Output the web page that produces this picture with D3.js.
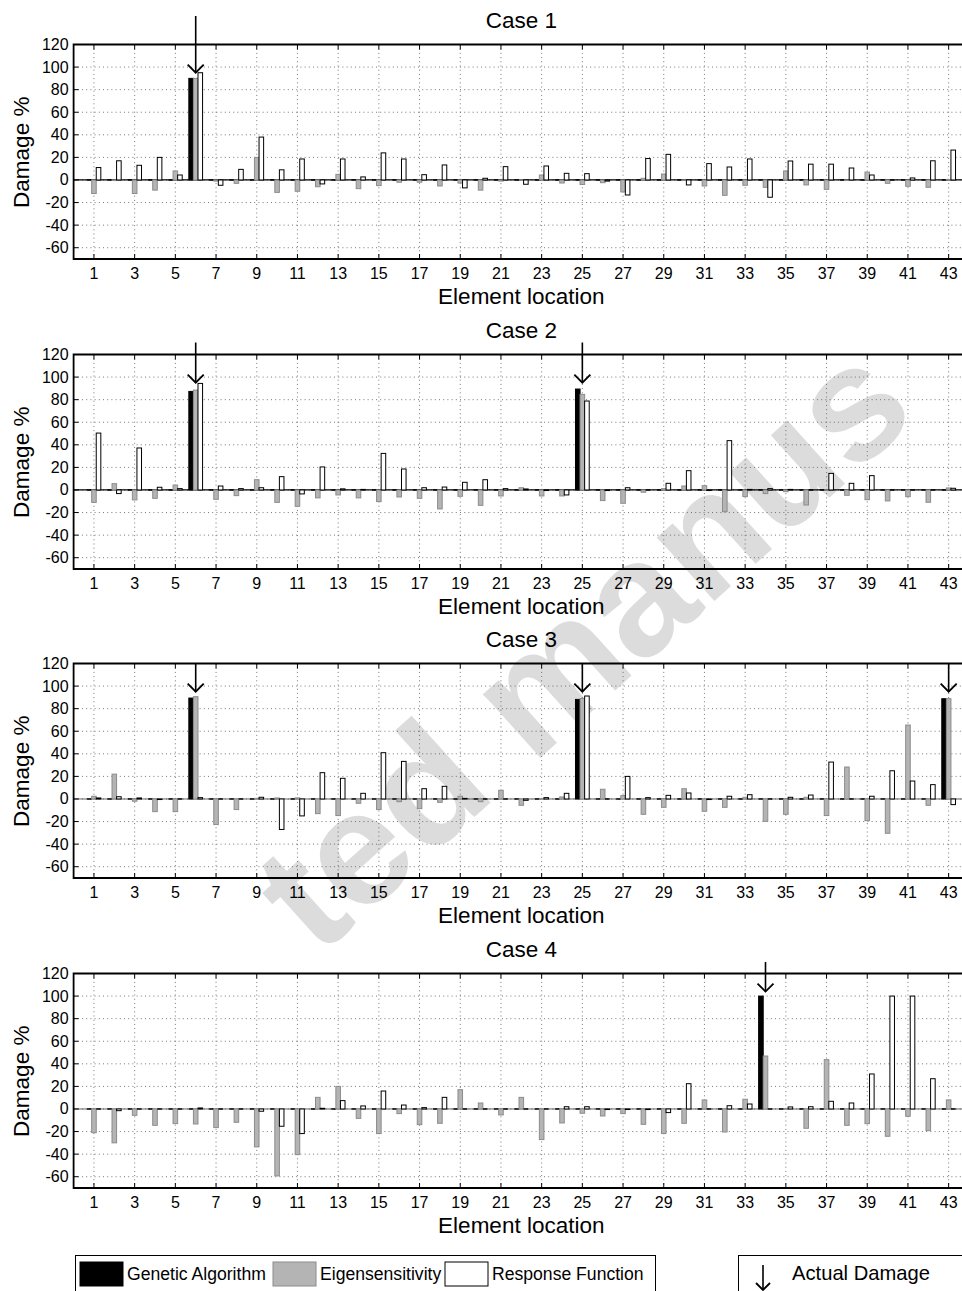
<!DOCTYPE html>
<html>
<head>
<meta charset="utf-8">
<script src="https://cdn.jsdelivr.net/npm/d3@7"></script>
<style>
  body { margin: 0; background: #fff; }
  svg { display: block; }
  text { font-family: "Liberation Sans", Arial, sans-serif; fill: #000; }
</style>
</head>
<body>
<svg id="chart" width="962" height="1291"></svg>
<script>
// ---- data -------------------------------------------------------------
const elements = d3.range(1, 44);                 // element numbers 1..43
const xTickValues = d3.range(1, 44, 2);           // 1,3,...,43
const yTickValues = [-60, -40, -20, 0, 20, 40, 60, 80, 100, 120];
const seriesNames = ["Genetic Algorithm", "Eigensensitivity", "Response Function"];
const caseTitles = ["Case 1", "Case 2", "Case 3", "Case 4"];
const xAxisTitle = "Element location";
const yAxisTitle = "Damage %";
const markerLabel = "Actual Damage";

// Case 1
const ga1 = [0,0,0,0,0,90,0,0,0,0,0,0,0,0,0,0,0,0,0,0,0,0,0,0,0,0,0,0,0,0,0,0,0,0,0,0,0,0,0,0,0,0,0];
const es1 = [-12,-0.5,-12,-9,8,90,-1,-3,20,-11,-10,-6,5,-7.7,-5,-2,-2,-5.3,-2.7,-9,-1,0,4.4,-2.7,-4,-2.4,-10.6,1.5,5.3,-0.5,-5.3,-13.6,-4.7,-6.5,8,-4.4,-8.3,-0.5,7,-3,-5.6,-6.5,0.5];
const rf1 = [11,17,13,20,4.4,95,-4.7,9.4,38,9,18.6,-3.5,18.6,2.7,24,18.6,4.7,13.3,-7,1.5,11.8,-3.8,12.4,5.9,5.6,-1,-13.3,19,22.7,-4.4,14.5,11.5,18.6,-15.3,16.8,14,14,10.6,4.4,0,1.8,17,26.5];
const damaged1 = [6];

// Case 2
const ga2 = [0,0,0,0,0,87.3,0,0,0,0,0,0,0,0,0,0,0,0,0,0,0,0,0,0,89.4,0,0,0,0,0,0,0,0,0,0,0,0,0,0,0,0,0,0];
const es2 = [-11,5.6,-8.8,-7.4,4.4,88.5,-8.3,-5,9.1,-11,-14.5,-7,-4.4,-7,-10.3,-6.2,-7.4,-16.8,-5.6,-13.6,-5.3,2,-5.3,-5.3,84.7,-9.4,-11.8,-2,1.2,3.5,3.8,-19.2,-5.9,-3.2,-1.5,-13.3,0,-4.7,-8.6,-9.7,-5.9,-10.9,1.8];
const rf2 = [50.4,-3.2,37.2,2.4,1.2,94.4,3.5,1.2,2,11.8,-3.5,20.4,1,0.5,32.4,18.6,2,2.6,6.8,9.1,1.2,0.9,-0.5,-4.4,78.8,-0.5,2,0,5.9,17.1,-0.5,43.7,0.5,1.2,0.5,0,14.7,5.9,12.7,0,0,0,1.5];
const damaged2 = [6, 25];

// Case 3
const ga3 = [0,0,0,0,0,89.4,0,0,0,0,0,0,0,0,0,0,0,0,0,0,0,0,0,0,88.2,0,0,0,0,0,0,0,0,0,0,0,0,0,0,0,0,0,88.8];
const es3 = [2.4,22,-2,-11.2,-11.2,90.6,-22.7,-9.4,0.5,0.9,1,-13,-14.7,-3.8,-9.4,-2.4,-8.6,-3,2.4,-2.4,7.7,-5.6,0,1.8,89,8.6,3,-13.6,-7.4,9.1,-10.9,-7.4,1.5,-19.8,-13.6,1.5,-14.7,28.3,-19.2,-30.4,65.5,-5.6,88.8];
const rf3 = [0.9,2,0.9,-0.5,0,1.2,0,0,1.5,-27,-15,23.3,18.3,5,41,33.3,9.1,11.2,0.5,0,0,-1.2,1.2,5,91.2,0,20,1.2,3.2,5.3,-0.5,2.4,3.8,0,1.5,3.5,32.7,0,2.4,25,15.9,12.7,-5];
const damaged3 = [6, 25, 43];

// Case 4
const ga4 = [0,0,0,0,0,0,0,0,0,0,0,0,0,0,0,0,0,0,0,0,0,0,0,0,0,0,0,0,0,0,0,0,0,100,0,0,0,0,0,0,0,0,0];
const es4 = [-21,-30,-5.6,-14.5,-13,-13.3,-16.5,-11.8,-33.6,-59.3,-40.4,10.3,20,-8.3,-21.8,-4.1,-13.9,-12.7,17.1,5.3,-5.3,10.3,-27.1,-12.4,-3.8,-6.2,-4.1,-13.6,-21.8,-12.7,8,-20.4,8.6,46.9,0,-17.1,43.7,-14.5,-13,-24.2,-6.5,-19.2,8];
const rf4 = [0,-1.5,0,0,0,0.9,0,0,-2,-15.3,-21.8,0.6,7.4,2.7,15.9,3.5,1.2,10.3,0,0,0,0,0,2,2,-0.5,-0.5,-0.5,-3.2,22.4,0,2.9,4.4,0,1.8,2,6.8,5.3,31,100,100,26.8,0];
const damaged4 = [34];

// level (in % units) where each case's damage arrows point
const arrowTips = [95, 95, 95, 104];

// ---- layout -----------------------------------------------------------
const svg = d3.select("#chart");
const plotLeft = 73.6, plotRight = 969;
const panelTops = [44.5, 354.5, 663.5, 973.5];
const arrowRise = [28.5, 12, 0, 11.5];   // how far each arrow shaft starts above its frame
const plotH = 214.5;
const barW = 0.225;                      // width of one bar in element units
const offsets = [-barW, 0, barW];        // GA, ES, RF within a group
const fills = ["#000000", "#b4b4b4", "#ffffff"];
const strokes = ["#000000", "#8c8c8c", "#000000"];

const cases = [
  { title: caseTitles[0], series: [ga1, es1, rf1], damaged: damaged1 },
  { title: caseTitles[1], series: [ga2, es2, rf2], damaged: damaged2 },
  { title: caseTitles[2], series: [ga3, es3, rf3], damaged: damaged3 },
  { title: caseTitles[3], series: [ga4, es4, rf4], damaged: damaged4 }
];

const x = d3.scaleLinear().domain([0, 44]).range([plotLeft, plotRight]);

// faint diagonal watermark sitting behind the panels
svg.append("text")
  .attr("transform", "translate(318,958) rotate(-42)")
  .attr("font-size", 162)
  .attr("font-weight", "bold")
  .style("fill", "#dcdcdc")
  .text("ted manus");

function arrowPath(g, cx, yTop, yTip, head) {
  g.append("line")
    .attr("x1", cx).attr("x2", cx)
    .attr("y1", yTop).attr("y2", yTip)
    .attr("stroke", "#000").attr("stroke-width", 1.6);
  g.append("path")
    .attr("d", `M${cx - head},${yTip - head} L${cx},${yTip} L${cx + head},${yTip - head}`)
    .attr("fill", "none").attr("stroke", "#000").attr("stroke-width", 1.8);
}

cases.forEach((c, ci) => {
  const top = panelTops[ci];
  const y = d3.scaleLinear().domain([-70, 120]).range([top + plotH, top]);
  const g = svg.append("g");

  // dotted grid
  g.append("g").selectAll("line").data(yTickValues).join("line")
    .attr("x1", plotLeft).attr("x2", plotRight)
    .attr("y1", d => y(d)).attr("y2", d => y(d))
    .attr("stroke", "#555").attr("stroke-width", 0.8)
    .attr("stroke-dasharray", "1,3.2");
  g.append("g").selectAll("line").data(xTickValues).join("line")
    .attr("x1", d => x(d)).attr("x2", d => x(d))
    .attr("y1", top).attr("y2", top + plotH)
    .attr("stroke", "#555").attr("stroke-width", 0.8)
    .attr("stroke-dasharray", "1,3.2");

  // zero line
  g.append("line")
    .attr("x1", plotLeft).attr("x2", plotRight)
    .attr("y1", y(0)).attr("y2", y(0))
    .attr("stroke", ci < 2 ? "#000" : "#555").attr("stroke-width", ci < 2 ? 1.2 : 0.9);

  // bars
  c.series.forEach((vals, si) => {
    const sg = g.append("g");
    const rows = elements.map((e, i) => ({ e, v: vals[i] }));
    sg.selectAll("rect").data(rows.filter(d => d.v !== 0)).join("rect")
      .attr("x", d => x(d.e + offsets[si] - barW / 2))
      .attr("width", x(barW) - x(0))
      .attr("y", d => y(Math.max(0, d.v)))
      .attr("height", d => Math.abs(y(d.v) - y(0)))
      .attr("fill", fills[si])
      .attr("stroke", strokes[si]).attr("stroke-width", 1);
    // zero-valued bars collapse to a short edge on the baseline
    sg.selectAll("line").data(rows.filter(d => d.v === 0)).join("line")
      .attr("x1", d => x(d.e + offsets[si] - barW / 2))
      .attr("x2", d => x(d.e + offsets[si] + barW / 2))
      .attr("y1", y(0)).attr("y2", y(0))
      .attr("stroke", strokes[si]).attr("stroke-width", 1.4);
  });

  // frame: top, left, bottom
  g.append("path")
    .attr("d", `M${plotRight},${top} L${plotLeft},${top} L${plotLeft},${top + plotH} L${plotRight},${top + plotH}`)
    .attr("fill", "none").attr("stroke", "#000").attr("stroke-width", 1.8);

  // tick marks (inward) on bottom, top and left
  const tk = g.append("g").attr("stroke", "#000").attr("stroke-width", 1);
  tk.selectAll(".tb").data(xTickValues).join("line")
    .attr("x1", d => x(d)).attr("x2", d => x(d))
    .attr("y1", top + plotH).attr("y2", top + plotH - 5);
  tk.selectAll(".tt").data(xTickValues).join("line")
    .attr("x1", d => x(d)).attr("x2", d => x(d))
    .attr("y1", top).attr("y2", top + 5);
  tk.selectAll(".tl").data(yTickValues).join("line")
    .attr("x1", plotLeft).attr("x2", plotLeft + 5)
    .attr("y1", d => y(d)).attr("y2", d => y(d));

  // tick labels
  g.append("g").selectAll("text").data(xTickValues).join("text")
    .attr("x", d => x(d)).attr("y", top + plotH + 20)
    .attr("text-anchor", "middle").attr("font-size", 16)
    .text(d => d);
  g.append("g").selectAll("text").data(yTickValues).join("text")
    .attr("x", plotLeft - 5).attr("y", d => y(d) + 5.5)
    .attr("text-anchor", "end").attr("font-size", 16)
    .text(d => d);

  // titles
  g.append("text")
    .attr("x", (plotLeft + plotRight) / 2).attr("y", top - 16.5)
    .attr("text-anchor", "middle").attr("font-size", 22.5)
    .text(c.title);
  g.append("text")
    .attr("x", (plotLeft + plotRight) / 2).attr("y", top + plotH + 45)
    .attr("text-anchor", "middle").attr("font-size", 22.5)
    .text(xAxisTitle);
  g.append("text")
    .attr("transform", `translate(29,${top + plotH / 2 + 0.5}) rotate(-90)`)
    .attr("text-anchor", "middle").attr("font-size", 22.5)
    .text(yAxisTitle);

  // actual-damage arrows
  c.damaged.forEach(e => {
    arrowPath(g, x(e), top - arrowRise[ci], y(arrowTips[ci]), 8);
  });
});

// ---- legends ----------------------------------------------------------
const lg = svg.append("g");
lg.append("rect").attr("x", 75.5).attr("y", 1255.5).attr("width", 580).attr("height", 40)
  .attr("fill", "#fff").attr("stroke", "#000").attr("stroke-width", 1);
const legendX = [80, 273, 445];
seriesNames.forEach((name, i) => {
  lg.append("rect")
    .attr("x", legendX[i]).attr("y", 1262).attr("width", 43).attr("height", 24)
    .attr("fill", fills[i]).attr("stroke", strokes[i]).attr("stroke-width", 1);
  lg.append("text")
    .attr("x", legendX[i] + 47).attr("y", 1280)
    .attr("font-size", 17.6)
    .text(name);
});

lg.append("rect").attr("x", 738.5).attr("y", 1255.5).attr("width", 240).attr("height", 40)
  .attr("fill", "#fff").attr("stroke", "#000").attr("stroke-width", 1);
arrowPath(lg, 763, 1265, 1290, 7);
lg.append("text")
  .attr("x", 792).attr("y", 1280)
  .attr("font-size", 20.2)
  .text(markerLabel);
</script>
</body>
</html>
